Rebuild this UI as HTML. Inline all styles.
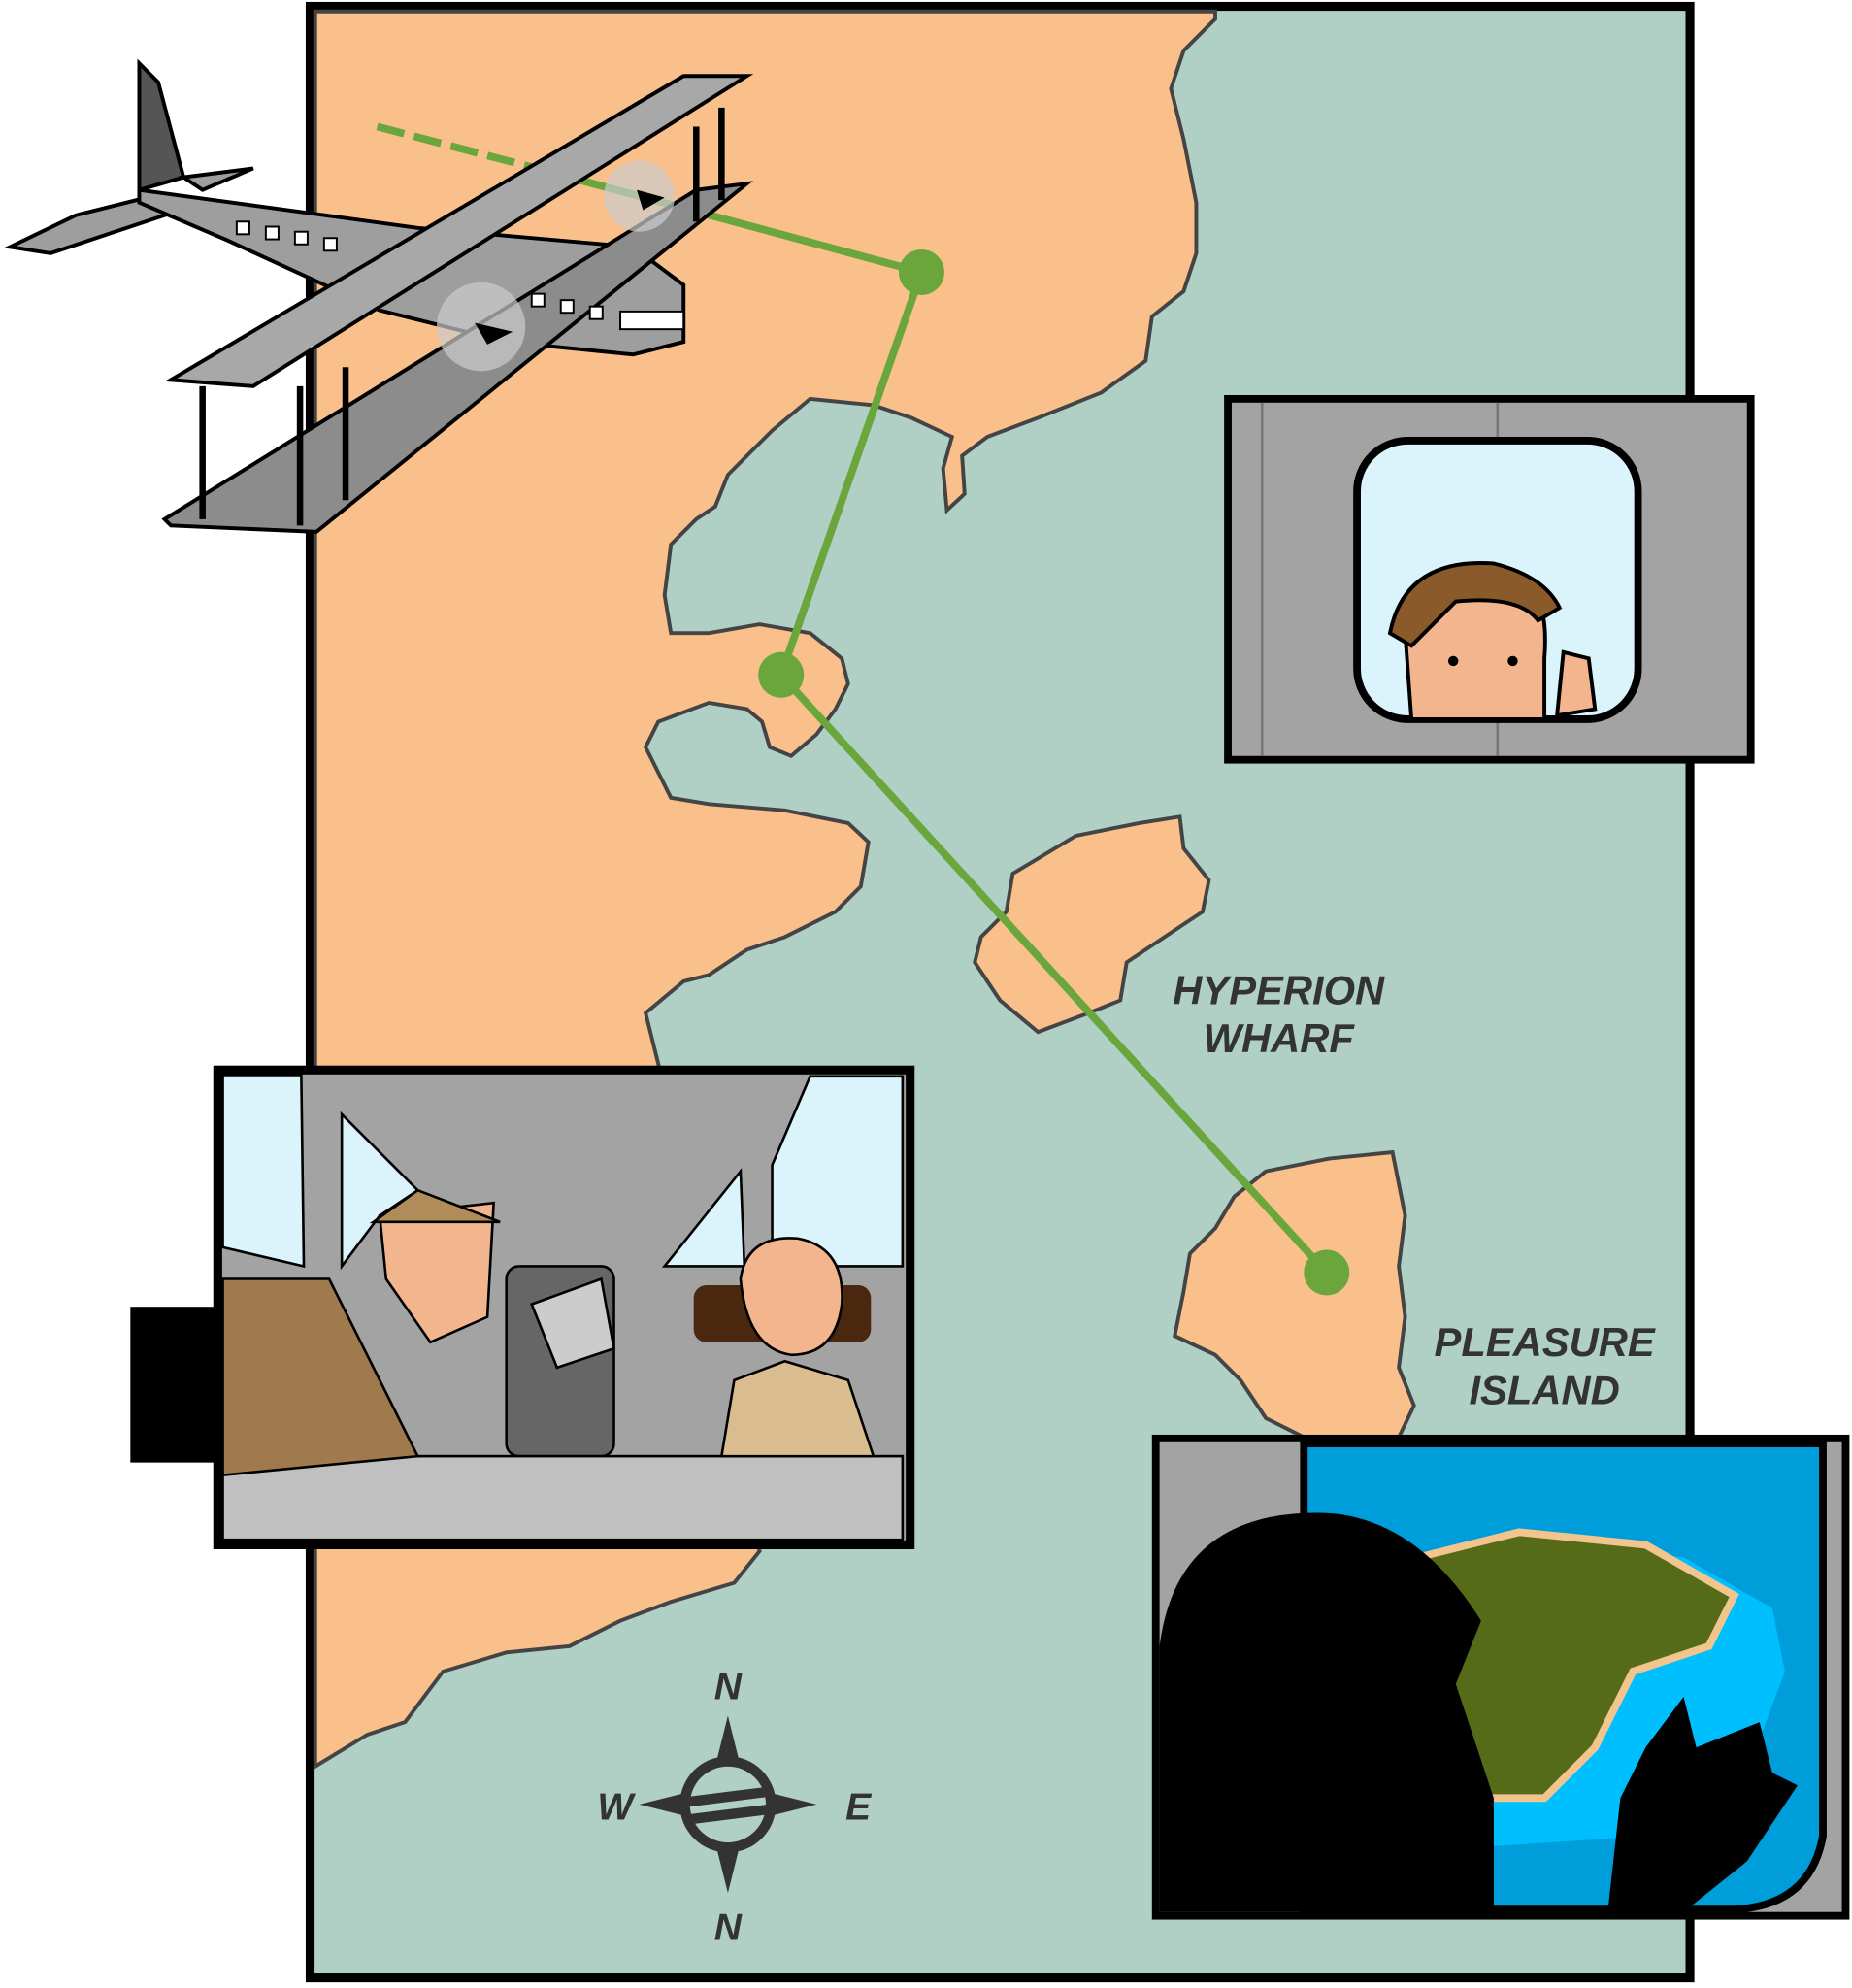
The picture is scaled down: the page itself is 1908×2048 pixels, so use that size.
<!DOCTYPE html>
<html><head><meta charset="utf-8"><style>html,body{margin:0;padding:0;background:#fff}svg{display:block}</style></head><body>
<svg width="1908" height="2048" viewBox="0 0 1463 1570" preserveAspectRatio="none" xmlns="http://www.w3.org/2000/svg">
<rect x="245" y="5" width="1090" height="1557" fill="#b0d0c5" stroke="#000" stroke-width="7"/>
<g fill="#f9c08b" stroke="#444" stroke-width="3">
<path d="M249,9 L960,9 L960,15 L935,40 L925,70 L935,110 L945,160 L945,200 L935,230 L910,250 L905,285 L870,310 L820,330 L780,345 L760,360 L762,390 L748,403 L745,370 L752,345 L720,330 L690,320 L640,315 L610,340 L575,375 L565,400 L550,410 L530,430 L525,470 L530,500 L560,500 L600,493 L640,500 L665,520 L670,540 L660,560 L645,580 L625,597 L608,590 L602,570 L590,560 L560,555 L520,570 L510,590 L520,610 L530,630 L560,635 L620,640 L670,650 L686,665 L680,700 L660,720 L620,740 L590,750 L560,770 L540,775 L510,800 L520,840 L600,1225 L580,1250 L530,1265 L490,1280 L450,1300 L400,1305 L350,1320 L320,1360 L290,1370 L249,1395 Z"/>
<path d="M800,690 L850,660 L900,650 L932,645 L935,670 L955,695 L950,720 L920,740 L890,760 L885,790 L860,800 L820,815 L790,790 L770,760 L775,740 L795,720 Z"/>
<path d="M1000,925 L1050,915 L1100,910 L1110,960 L1105,1000 L1110,1040 L1105,1080 L1117,1110 L1105,1135 L1030,1135 L1000,1120 L980,1090 L960,1070 L928,1055 L935,1020 L940,990 L960,970 L975,945 Z"/>
</g>
<g stroke="#6aa63c" stroke-width="6" fill="none"><path d="M298,100 L420,132" stroke-dasharray="22,8"/><path d="M420,132 L728,215 L617,533 L1048,1005"/></g>
<g fill="#6aa63c"><circle cx="728" cy="215" r="18"/><circle cx="617" cy="533" r="18"/><circle cx="1048" cy="1005" r="18"/></g>
<!-- plane -->
<g stroke="#000" stroke-width="3" fill="#9e9e9e">
<path d="M110,50 L125,65 L145,140 L110,150 Z" fill="#555"/>
<path d="M8,195 L60,170 L120,155 L145,165 L40,200 Z"/>
<path d="M145,140 L200,133 L160,150 Z"/>
<path d="M110,150 L330,180 L500,195 L540,225 L540,270 L500,280 L400,270 L300,245 L180,190 L110,160 Z"/>
<path d="M130,410 L550,150 L590,145 L250,420 L135,415 Z" fill="#8c8c8c"/>
<path d="M135,300 L540,60 L590,60 L200,305 Z" fill="#a8a8a8"/>
</g>
<g fill="#fff" stroke="#000" stroke-width="1.5"><rect x="187" y="175" width="10" height="10"/><rect x="210" y="179" width="10" height="10"/><rect x="233" y="183" width="10" height="10"/><rect x="256" y="188" width="10" height="10"/><rect x="420" y="232" width="10" height="10"/><rect x="443" y="237" width="10" height="10"/><rect x="466" y="242" width="10" height="10"/><rect x="490" y="246" width="50" height="14"/></g>
<g fill="#ccc" opacity="0.7"><circle cx="380" cy="258" r="35"/><circle cx="505" cy="155" r="28"/></g>
<g fill="#000"><path d="M375,255 L405,262 L385,272 Z"/><path d="M503,150 L525,156 L508,166 Z"/></g>
<g stroke="#000" stroke-width="5"><line x1="160" y1="305" x2="160" y2="410"/><line x1="237" y1="305" x2="237" y2="415"/><line x1="273" y1="290" x2="273" y2="395"/><line x1="550" y1="100" x2="550" y2="175"/><line x1="570" y1="85" x2="570" y2="158"/></g>
<!-- window panel -->
<rect x="970" y="315" width="413" height="285" fill="#a3a3a3" stroke="#000" stroke-width="6"/>
<line x1="997" y1="318" x2="997" y2="597" stroke="#777" stroke-width="2"/>
<line x1="1183" y1="318" x2="1183" y2="597" stroke="#777" stroke-width="2"/>
<rect x="1072" y="348" width="222" height="220" rx="40" fill="#dbf3fb" stroke="#000" stroke-width="6"/>
<path d="M1115,568 L1110,500 Q1130,450 1190,450 Q1225,460 1220,520 L1220,568 Z" fill="#f2b58e" stroke="#000" stroke-width="3"/>
<path d="M1098,500 Q1110,440 1180,445 Q1220,455 1232,480 L1215,490 Q1200,470 1150,475 L1115,510 Z" fill="#8a5a2b" stroke="#000" stroke-width="3"/>
<circle cx="1148" cy="522" r="4"/><circle cx="1195" cy="522" r="4"/>
<path d="M1230,565 L1235,515 L1255,520 L1260,560 Z" fill="#f2b58e" stroke="#000" stroke-width="3"/>
<!-- cockpit panel -->
<rect x="103" y="1032" width="70" height="123" fill="#000"/>
<rect x="172" y="845" width="547" height="375" fill="#a3a3a3" stroke="#000" stroke-width="7"/>
<path d="M176,849 L238,849 L240,1000 L176,985 Z" fill="#dbf3fb" stroke="#000" stroke-width="2"/>
<path d="M270,880 L330,940 L300,960 L270,1000 Z" fill="#dbf3fb" stroke="#000" stroke-width="2"/>
<path d="M610,920 L640,850 L713,850 L713,1000 L610,1000 Z" fill="#dbf3fb" stroke="#000" stroke-width="2"/>
<path d="M525,1000 L585,925 L588,1000 Z" fill="#dbf3fb" stroke="#000" stroke-width="2"/>
<rect x="400" y="1000" width="85" height="150" rx="10" fill="#666" stroke="#000" stroke-width="2"/>
<rect x="176" y="1150" width="537" height="66" fill="#c0c0c0" stroke="#000" stroke-width="2"/>
<path d="M176,1010 L260,1010 L300,1090 L330,1150 L176,1165 Z" fill="#a0794c" stroke="#000" stroke-width="2"/>
<path d="M300,960 L390,950 L385,1040 L340,1060 L305,1010 Z" fill="#f2b58e" stroke="#000" stroke-width="2"/>
<path d="M295,965 L330,940 L395,965 Z" fill="#b08c5b" stroke="#000" stroke-width="2"/>
<rect x="548" y="1015" width="140" height="45" rx="10" fill="#4a2810"/>
<path d="M585,1010 Q590,975 630,978 Q668,985 665,1030 Q660,1070 625,1070 Q590,1065 585,1010 Z" fill="#f2b58e" stroke="#000" stroke-width="2"/>
<path d="M570,1150 L580,1090 L620,1075 L670,1090 L690,1150 Z" fill="#d9bd8f" stroke="#000" stroke-width="2"/>
<path d="M420,1030 L475,1010 L485,1065 L440,1080 Z" fill="#ccc" stroke="#000" stroke-width="2"/>
<!-- bottom right panel -->
<rect x="913" y="1136" width="545" height="377" fill="#a3a3a3" stroke="#000" stroke-width="6"/>
<path d="M1030,1140 L1440,1140 L1440,1450 Q1430,1505 1370,1508 L1030,1508 Z" fill="#009ddb" stroke="#000" stroke-width="6"/>
<path d="M1100,1240 L1210,1215 L1330,1230 L1400,1270 L1410,1320 L1380,1400 L1300,1450 L1150,1460 L1100,1420 Z" fill="#00bfff"/>
<path d="M1120,1230 L1200,1210 L1300,1220 L1370,1260 L1350,1300 L1290,1320 L1260,1380 L1220,1420 L1120,1420 Z" fill="#556b17" stroke="#f2c48e" stroke-width="6"/>
<path d="M916,1510 L916,1300 Q930,1190 1050,1195 Q1120,1200 1170,1280 L1150,1330 L1180,1420 L1180,1510 Z" fill="#000"/>
<path d="M1270,1510 L1280,1420 L1300,1380 L1330,1340 L1340,1380 L1390,1360 L1400,1400 L1420,1410 L1380,1470 L1330,1510 Z" fill="#000"/>
<!-- compass -->
<g transform="translate(575,1425)"><path d="M0,-70 L14,-14 L70,0 L14,14 L0,70 L-14,14 L-70,0 L-14,-14 Z" fill="#333"/><circle r="38" fill="#333"/><circle r="30" fill="#b0d0c5"/><path d="M-32,-6 L32,-14 L32,-6 L-32,2 Z M-32,8 L32,0 L32,8 L-32,16 Z" fill="#333"/></g>
<g font-family="Liberation Sans, sans-serif" font-weight="bold" font-style="italic" fill="#333">
<text x="575" y="1342" font-size="30" text-anchor="middle">N</text>
<text x="575" y="1532" font-size="30" text-anchor="middle">N</text>
<text x="486" y="1437" font-size="30" text-anchor="middle">W</text>
<text x="678" y="1437" font-size="30" text-anchor="middle">E</text>
<text x="1010" y="793" font-size="32" text-anchor="middle">HYPERION</text>
<text x="1010" y="831" font-size="32" text-anchor="middle">WHARF</text>
<text x="1220" y="1071" font-size="32" text-anchor="middle">PLEASURE</text>
<text x="1220" y="1109" font-size="32" text-anchor="middle">ISLAND</text>
</g>
</svg>
</body></html>
